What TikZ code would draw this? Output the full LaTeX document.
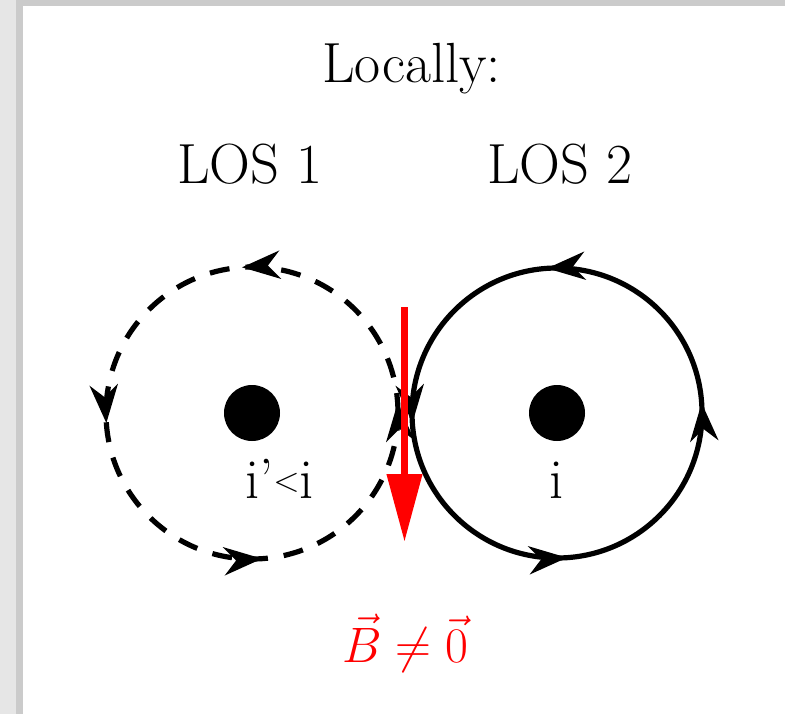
\documentclass[tikz,border=0pt]{standalone}
\usetikzlibrary{arrows.meta,decorations.markings}
\definecolor{frameA}{HTML}{E6E6E6}
\definecolor{frameB}{HTML}{CBCBCB}
\begin{document}
\begin{tikzpicture}[x=0.5pt,y=0.5pt,
  big/.style={font=\fontsize{28.3}{32}\selectfont, inner sep=0pt, anchor=base},
  looparrows/.style={line width=2.6pt,
    postaction={decorate},
    decoration={markings,
      mark=at position 0.011 with {\arrow{Stealth[length=19pt,width=14pt,inset=6pt]}},
      mark=at position 0.261 with {\arrow{Stealth[length=19pt,width=14pt,inset=6pt]}},
      mark=at position 0.511 with {\arrow{Stealth[length=19pt,width=14pt,inset=6pt]}},
      mark=at position 0.761 with {\arrow{Stealth[length=19pt,width=14pt,inset=6pt]}}}},
  dotstyle/.style={fill=black}
]
\useasboundingbox (0,0) rectangle (785,714);
\fill[white] (0,0) rectangle (785,714);
\fill[frameA] (0,0) rectangle (16,714);
\fill[frameB] (16,0) rectangle (23,714);
\fill[frameB] (16,708) rectangle (785,714);

\node[big] (title) at (411.5,632) {Locally:};
\node[big] (los1) at (250,531) {LOS 1};
\node[big] (los2) at (560,531) {LOS 2};

\coordinate (c1) at (252,301);
\coordinate (c2) at (557,301);

\draw[looparrows, dash pattern=on 10pt off 8pt] (c1) circle[radius=146];
\draw[looparrows] (c2) circle[radius=145];

\fill[dotstyle] (c1) circle[radius=28];
\fill[dotstyle] (c2) circle[radius=28];

\node[big] (lab1) at (279.5,216) {i’\raisebox{0.12em}{\fontsize{19}{19}\selectfont$<$}i};
\node[big] (lab2) at (557,216) {i};

\coordinate (btop) at (404.5,407);
\coordinate (bbot) at (404.5,172);
\draw[red, line width=3.75pt, -{Triangle[length=34pt,width=17pt]}] (btop) -- (bbot);

\node[big, red, font=\fontsize{29.5}{32}\selectfont] (beq) at (405,52) {$\vec{B}\neq\vec{0}$};
\end{tikzpicture}
\end{document}
